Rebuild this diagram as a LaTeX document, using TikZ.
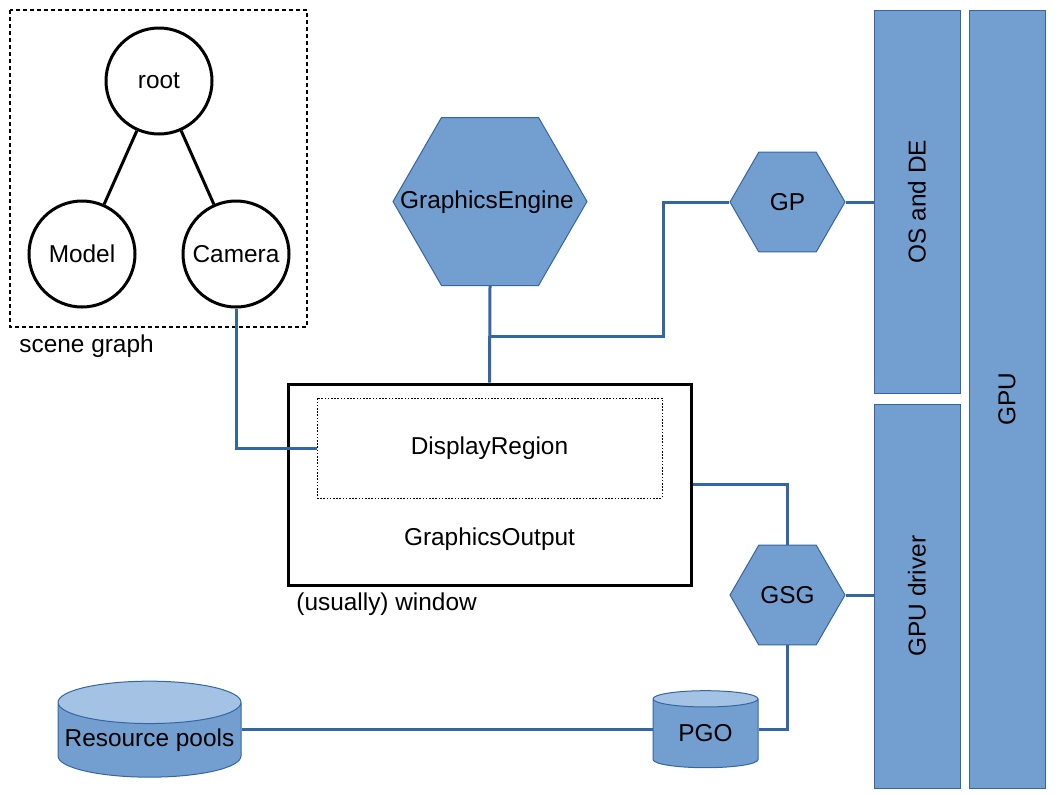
\documentclass[tikz,border=0pt]{standalone}
\usepackage{fontspec}
\setmainfont{Liberation Sans}
\usepackage{tikz}
\usetikzlibrary{shapes.geometric}
\definecolor{lofill}{HTML}{729FCF}
\definecolor{loline}{HTML}{3465A4}
\definecolor{lotop}{HTML}{A4C2E4}
\begin{document}
\begin{tikzpicture}[x=0.5pt,y=-0.5pt]
    \tikzstyle{every node}+=[inner sep=0pt, font=\fontsize{12.2}{14}\selectfont]
    \tikzstyle{sgnode}=[circle, draw=black, line width=1.5pt, minimum size=53pt]
    \tikzstyle{hexa}=[regular polygon, regular polygon sides=6, fill=lofill, draw=loline, line width=0.5pt]
    \tikzstyle{layer}=[rectangle, fill=lofill, draw=loline, line width=0.5pt]
    \tikzstyle{store}=[cylinder, shape border rotate=90, cylinder uses custom fill, cylinder body fill=lofill, cylinder end fill=lotop, draw=loline, line width=0.5pt]
    \tikzstyle{wire}=[draw=loline, line width=1.5pt]
    \useasboundingbox (0,0) rectangle (1058,794);
    \draw [black, line width=0.6pt, dash pattern=on 2pt off 1.5pt] (10,10) rectangle (307,327);
    \node [sgnode] (root) at (159,81) {root};
    \node [sgnode] (model) at (82,254) {Model};
    \node [sgnode] (camera) at (236,254) {Camera};
    \draw [black, line width=1.5pt] (root) -- (model);
    \draw [black, line width=1.5pt] (root) -- (camera);
    \node [anchor=west] (scenelbl) at (19,346) {scene graph};
    \node [hexa, minimum size=97pt] (engine) at (490,201.5) {};
    \node (enginetxt) at (487,202) {GraphicsEngine};
    \node [hexa, minimum size=57.5pt] (gp) at (787.5,202) {GP};
    \node [hexa, minimum size=57.5pt] (gsg) at (787.5,595) {GSG};
    \node [draw=black, line width=1.5pt, minimum width=201.5pt, minimum height=100.5pt] (output) at (489.5,484.5) {};
    \node (outtext) at (489.5,539) {GraphicsOutput};
    \node [draw=black, line width=0.4pt, dash pattern=on 0.8pt off 0.8pt, minimum width=172.5pt, minimum height=50pt] (region) at (489.5,448) {DisplayRegion};
    \node [anchor=west] (winlbl) at (296,604) {(usually) window};
    \node [layer, minimum width=43pt, minimum height=191.5pt] (osde) at (917,201.5) {\rotatebox{90}{OS and DE}};
    \node [layer, minimum width=43pt, minimum height=192pt] (driver) at (917,596) {\rotatebox{90}{GPU driver}};
    \node [layer, minimum width=38pt, minimum height=389pt] (gpu) at (1007,399) {\rotatebox{90}{GPU}};
    \node [store, minimum width=91.5pt, minimum height=48pt, aspect=0.25] (pools) at (149.5,740) {Resource pools};
    \node [store, minimum width=52.5pt, minimum height=38.5pt, aspect=0.3] (pgo) at (705.5,733.5) {PGO};
    \coordinate (split) at (490,336);
    \coordinate (bend) at (663,336);
    \draw [wire] (camera.south) |- (region.west);
    \draw [wire] (engine.south) -- (output.north);
    \draw [wire] (split) -- (bend) |- (gp.west);
    \draw [wire] (gp.east) -- (gp.east -| osde.west);
    \draw [wire] (output.east) -| (gsg.north);
    \draw [wire] (gsg.east) -- (gsg.east -| driver.west);
    \draw [wire] (gsg.south) |- ([yshift=2pt]pgo.east);
    \draw [wire] ([yshift=2pt]pgo.west) -- ([yshift=2pt]pgo.west -| pools.east);
\end{tikzpicture}
\end{document}
